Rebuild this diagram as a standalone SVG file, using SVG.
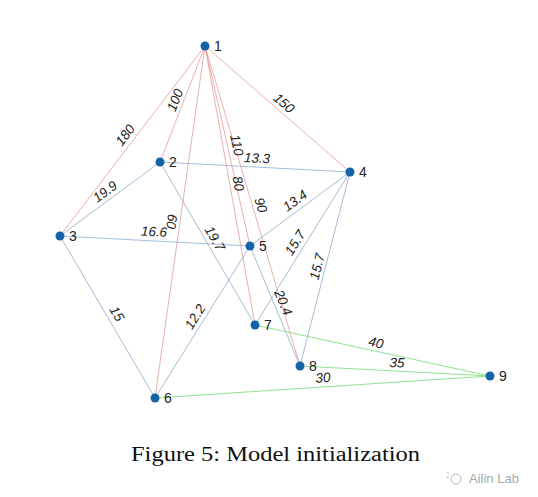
<svg xmlns="http://www.w3.org/2000/svg" width="538" height="497" viewBox="0 0 538 497">
<style>
.r{stroke:#e79a9a;stroke-width:0.8;fill:none}
.b{stroke:#8aaccb;stroke-width:0.8;fill:none}
.g{stroke:#85de85;stroke-width:0.9;fill:none}
.n{fill:#1463a6}
.nl{font-family:"Liberation Sans",Arial,sans-serif;font-size:14px;fill:#222}
.el{font-family:"Liberation Sans",Arial,sans-serif;font-size:13.5px;font-style:italic;fill:#222;text-anchor:middle}
.cap{font-family:"Liberation Serif","Times New Roman",serif;font-size:20px;fill:#111}
.wm{font-family:"Liberation Sans",Arial,sans-serif;font-size:13px;fill:#a8a8a8}
</style>
<rect width="538" height="497" fill="#fff"/>
<g id="connectors">
<line class="r" x1="205" y1="46" x2="60" y2="236"/>
<line class="r" x1="205" y1="46" x2="160" y2="162"/>
<line class="r" x1="205" y1="46" x2="350" y2="172"/>
<line class="r" x1="205" y1="46" x2="250" y2="246"/>
<line class="r" x1="205" y1="46" x2="255" y2="325"/>
<line class="r" x1="205" y1="46" x2="300" y2="366"/>
<line class="r" x1="205" y1="46" x2="155" y2="398"/>
<line class="b" x1="160" y1="162" x2="60" y2="236"/>
<line class="b" x1="160" y1="162" x2="350" y2="172"/>
<line class="b" x1="160" y1="162" x2="255" y2="325"/>
<line class="b" x1="60" y1="236" x2="250" y2="246"/>
<line class="b" x1="60" y1="236" x2="155" y2="398"/>
<line class="b" x1="350" y1="172" x2="250" y2="246"/>
<line class="b" x1="350" y1="172" x2="255" y2="325"/>
<line class="b" x1="350" y1="172" x2="300" y2="366"/>
<line class="b" x1="250" y1="246" x2="155" y2="398"/>
<line class="b" x1="250" y1="246" x2="300" y2="366"/>
<line class="g" x1="255" y1="325" x2="490" y2="376"/>
<line class="g" x1="300" y1="366" x2="490" y2="376"/>
<line class="g" x1="155" y1="398" x2="490" y2="376"/>
</g>
<g id="edge-labels">
<text class="el" transform="translate(125,135) rotate(-52.7)" dy="0.35em">180</text>
<text class="el" transform="translate(175,100) rotate(-68.8)" dy="0.35em">100</text>
<text class="el" transform="translate(284,103) rotate(41)" dy="0.35em">150</text>
<text class="el" transform="translate(237,145) rotate(77.3)" dy="0.35em">110</text>
<text class="el" transform="translate(238.5,183.5) rotate(79.8)" dy="0.35em">80</text>
<text class="el" transform="translate(261,205) rotate(73.5)" dy="0.35em">90</text>
<text class="el" transform="translate(172,221.5) rotate(98)" dy="0.35em">60</text>
<text class="el" transform="translate(105,191.5) rotate(-36.5)" dy="0.35em">19.9</text>
<text class="el" transform="translate(257,158) rotate(3)" dy="0.35em">13.3</text>
<text class="el" transform="translate(215,238.5) rotate(59.8)" dy="0.35em">19.7</text>
<text class="el" transform="translate(154,231.5) rotate(3)" dy="0.35em">16.6</text>
<text class="el" transform="translate(117,313.5) rotate(59.6)" dy="0.35em">15</text>
<text class="el" transform="translate(295,200.5) rotate(-36.5)" dy="0.35em">13.4</text>
<text class="el" transform="translate(295,242.5) rotate(-58.2)" dy="0.35em">15.7</text>
<text class="el" transform="translate(317,266.5) rotate(-75.5)" dy="0.35em">15.7</text>
<text class="el" transform="translate(195,316.5) rotate(-58)" dy="0.35em">12.2</text>
<text class="el" transform="translate(283.5,302.5) rotate(67.4)" dy="0.35em">20.4</text>
<text class="el" transform="translate(376,342.5) rotate(12)" dy="0.35em">40</text>
<text class="el" transform="translate(397,362.5) rotate(2.7)" dy="0.35em">35</text>
<text class="el" transform="translate(323,377.5) rotate(-3.9)" dy="0.35em">30</text>
</g>
<g id="node1"><circle class="n" cx="205" cy="46" r="4.5"/><text class="nl" x="214" y="51">1</text></g>
<g id="node2"><circle class="n" cx="160" cy="162" r="4.5"/><text class="nl" x="169" y="167">2</text></g>
<g id="node3"><circle class="n" cx="60" cy="236" r="4.5"/><text class="nl" x="69" y="241">3</text></g>
<g id="node4"><circle class="n" cx="350" cy="172" r="4.5"/><text class="nl" x="359" y="177">4</text></g>
<g id="node5"><circle class="n" cx="250" cy="246" r="4.5"/><text class="nl" x="259" y="251">5</text></g>
<g id="node6"><circle class="n" cx="155" cy="398" r="4.5"/><text class="nl" x="164" y="403">6</text></g>
<g id="node7"><circle class="n" cx="255" cy="325" r="4.5"/><text class="nl" x="264" y="330">7</text></g>
<g id="node8"><circle class="n" cx="300" cy="366" r="4.5"/><text class="nl" x="309" y="371">8</text></g>
<g id="node9"><circle class="n" cx="490" cy="376" r="4.5"/><text class="nl" x="499" y="381">9</text></g>
<text class="cap" x="131" y="461" textLength="289" lengthAdjust="spacingAndGlyphs">Figure 5:  Model initialization</text>
<g id="watermark">
<circle cx="456" cy="479" r="5" fill="none" stroke="#b5b5b5" stroke-width="1"/>
<path d="M447 472 l2.5 2.5 M446 477 l3 0" stroke="#c4c4c4" stroke-width="1" fill="none"/>
<text class="wm" x="469" y="483">Ailin Lab</text>
</g>
</svg>
